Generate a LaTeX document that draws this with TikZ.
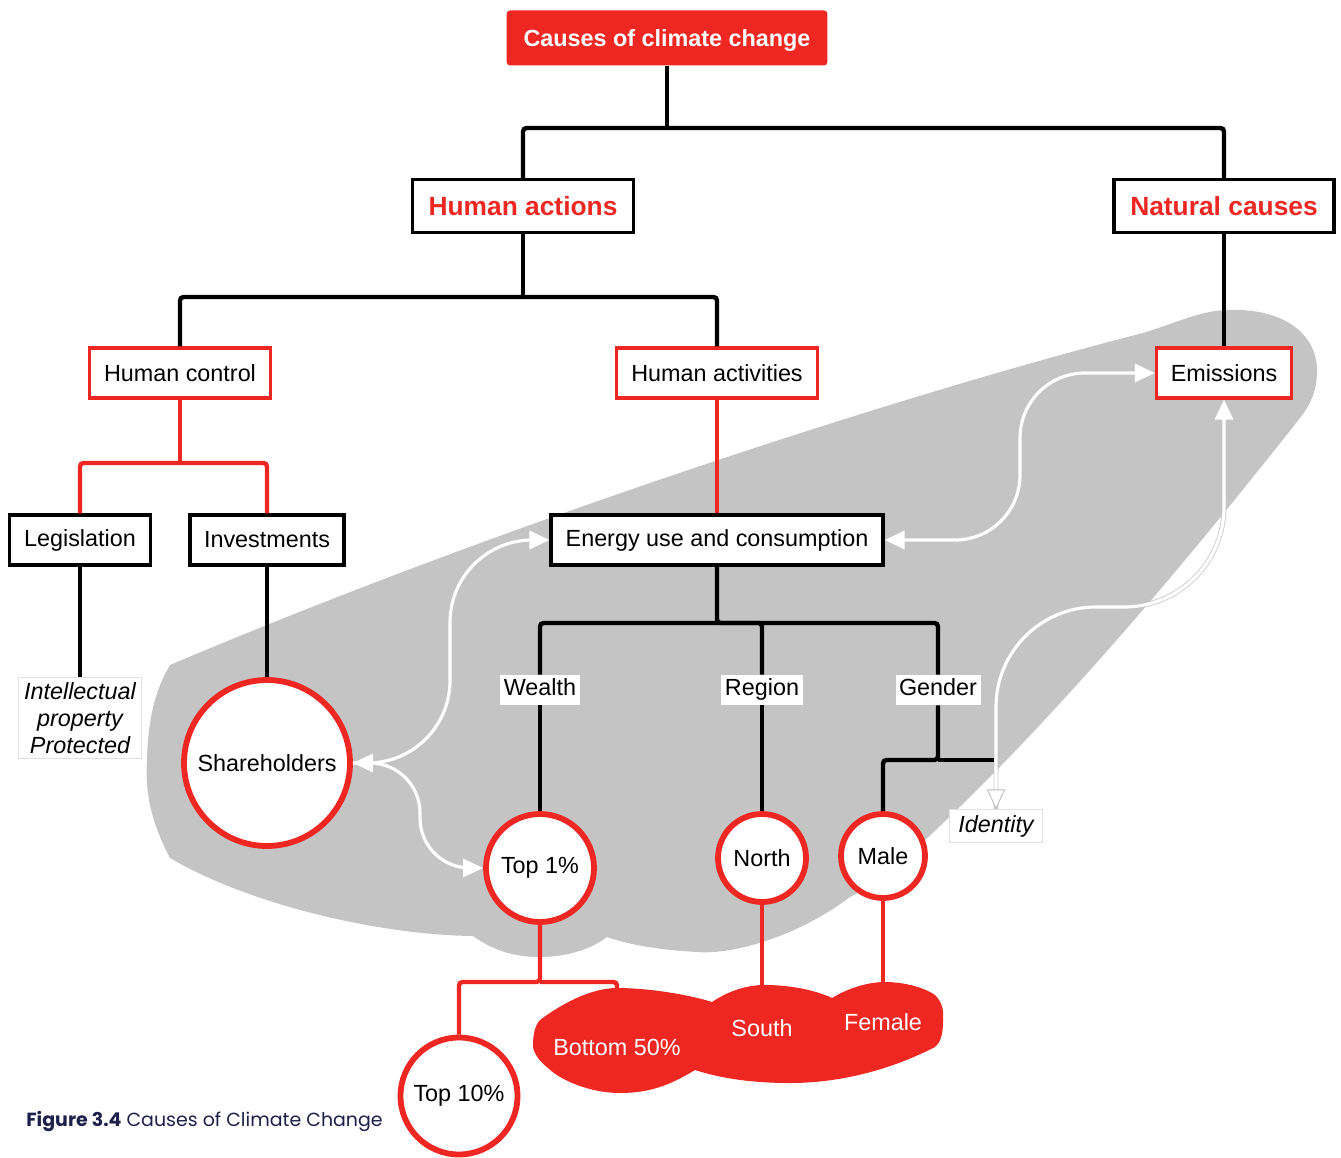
\documentclass[tikz,border=0pt]{standalone}
\usepackage{fontspec}
\setmainfont{Liberation Sans}
\newfontfamily\capfont{Poppins}
\usepackage{tikz}
\usetikzlibrary{arrows.meta, positioning}

\definecolor{climred}{RGB}{238,39,34}
\definecolor{blobgrey}{RGB}{196,196,196}
\definecolor{capnavy}{RGB}{29,32,74}
\newcommand{\diagfont}{\fontsize{13.3}{15.4}\selectfont}
\newcommand{\headfont}{\fontsize{15}{18}\selectfont}
\pgfdeclarelayer{deep}
\pgfdeclarelayer{back}
\pgfsetlayers{deep,back,main}

\begin{document}
\begin{tikzpicture}[
    x=0.02cm, y=-0.02cm,
    titlebox/.style={rectangle, rounded corners=2pt, fill=climred, text=white, font=\diagfont\bfseries, minimum width=6.42cm, minimum height=1.1cm, text depth=0pt},
    headbox/.style={rectangle, draw=black, line width=1.8pt, fill=white, text=climred, font=\headfont\bfseries, minimum height=1.06cm, inner xsep=0.2cm},
    redbox/.style={rectangle, draw=climred, line width=1.8pt, fill=white, font=\diagfont, minimum height=1.0cm, inner xsep=0.2cm},
    blackbox/.style={redbox, draw=black},
    tag/.style={rectangle, fill=white, font=\diagfont, inner xsep=2pt, inner ysep=0pt, minimum height=0.6cm, text height=1.6ex, text depth=0.4ex},
    note/.style={rectangle, draw=black!12, line width=0.5pt, fill=white, font=\diagfont\itshape, align=center, inner sep=3pt},
    ring/.style={circle, draw=climred, line width=3.3pt, fill=white, font=\diagfont, inner sep=0pt},
    blobtext/.style={text=white, font=\diagfont, inner sep=1pt},
    tline/.style={line width=2.5pt, rounded corners=2pt},
    rline/.style={tline, draw=climred},
    wlink/.style={draw=white, line width=1.8pt},
    wtip/.tip={Triangle[length=4mm, width=3.6mm]},
    otip/.tip={Triangle[length=4mm, width=3.6mm, fill=white, color=black!25, line width=0.5pt]},
]
\useasboundingbox (0,0) rectangle (1341,1158);

% grey area
\begin{pgfonlayer}{back}
\fill[blobgrey] (170,665) .. controls (500,525) and (900,395) .. (1143,333)
  .. controls (1185,320) and (1205,308) .. (1240,310)
  .. controls (1290,312) and (1317,338) .. (1317,370)
  .. controls (1317,392) and (1310,405) .. (1300,418)
  .. controls (1200,545) and (1060,715) .. (925,840)
  .. controls (900,862) and (875,885) .. (850,897)
  .. controls (800,935) and (735,955) .. (697,952)
  .. controls (660,950) and (630,945) .. (607,937)
  .. controls (590,950) and (565,957) .. (540,957)
  .. controls (510,957) and (490,948) .. (473,936)
  .. controls (380,935) and (250,905) .. (170,858)
  .. controls (150,820) and (145,790) .. (147,760)
  .. controls (148,720) and (155,690) .. (170,665) -- cycle;
\end{pgfonlayer}

% red area
\fill[climred] (540,1020) .. controls (560,1005) and (590,988) .. (617,988)
  .. controls (650,988) and (690,995) .. (712,1002)
  .. controls (730,990) and (748,985) .. (765,985)
  .. controls (790,985) and (815,990) .. (832,998)
  .. controls (850,987) and (870,982) .. (885,982)
  .. controls (905,982) and (925,988) .. (935,995)
  .. controls (942,1002) and (944,1010) .. (943,1022)
  .. controls (943,1035) and (940,1043) .. (935,1047)
  .. controls (890,1070) and (840,1083) .. (790,1083)
  .. controls (750,1083) and (720,1078) .. (695,1070)
  .. controls (670,1085) and (650,1093) .. (620,1093)
  .. controls (590,1093) and (560,1080) .. (548,1068)
  .. controls (538,1060) and (533,1052) .. (533,1045)
  .. controls (533,1035) and (535,1025) .. (540,1020) -- cycle;

% Top levels
\node[titlebox] (title) at (667,38) {Causes of climate change};
\node[headbox, minimum width=4.42cm] (human) at (523,206) {Human actions};
\node[headbox, minimum width=4.40cm] (natural) at (1224,206) {Natural causes};

% Second level
\node[redbox, minimum width=3.62cm] (control) at (180,373) {Human control};
\node[redbox, minimum width=4.02cm] (activities) at (717,373) {Human activities};
\node[redbox, minimum width=2.70cm] (emissions) at (1224,373) {Emissions};

% Third level
\node[blackbox, minimum width=2.82cm] (legislation) at (80,540) {Legislation};
\node[blackbox, minimum width=3.08cm] (investments) at (267,540) {Investments};
\node[blackbox, minimum width=6.64cm] (energy) at (717,540) {Energy use and consumption};

% Lower level
\node[note] (ipnote) at (80,718) {Intellectual\\property\\Protected};
\node[ring, minimum size=3.32cm] (shareholders) at (267,763) {Shareholders};
\node[tag] (wealth) at (540,690) {Wealth};
\node[tag] (region) at (762,690) {Region};
\node[tag] (gender) at (938,690) {Gender};
\node[note, inner xsep=5pt] (identity) at (996,826) {Identity};
\node[ring, minimum size=2.16cm] (top1) at (540,868) {Top 1\%};
\node[ring, minimum size=1.76cm] (north) at (762,858) {North};
\node[ring, minimum size=1.68cm] (male) at (883,856) {Male};
\node[ring, minimum size=2.34cm] (top10) at (459,1096) {Top 10\%};

% Red area labels
\node[blobtext] (bottom50) at (617,1047) {Bottom 50\%};
\node[blobtext] (south) at (762,1028) {South};
\node[blobtext] (female) at (883,1022) {Female};

% Caption
\node[anchor=base west, inner sep=0pt, text=capnavy, font=\capfont\fontsize{10.8}{12}\selectfont] (caption) at (26,1126) {\textbf{Figure 3.4} Causes of Climate Change};

% Forks
\coordinate (topfork) at (667,128);
\coordinate (humfork) at (523,297);
\coordinate (ctrlfork) at (180,463);
\coordinate (enfork) at (717,623);
\coordinate (gendfork) at (938,760);
\coordinate (idjoin) at (994,760);
\coordinate (wealthfork) at (540,982);

% Black tree
\draw[tline] (title) -- (topfork);
\draw[tline] (human.north) |- (topfork) -| (natural.north);
\draw[tline] (human) -- (humfork);
\draw[tline] (control.north) |- (humfork) -| (activities.north);
\draw[tline] (natural) -- (emissions);
\draw[tline] (legislation) -- (ipnote);
\draw[tline] (investments) -- (shareholders);
\draw[tline] (energy) -- (enfork) -| (region.north);
\draw[tline] (wealth.north) |- (enfork) -| (gender.north);
\draw[tline] (wealth) -- (top1);
\draw[tline] (region) -- (north);
\draw[tline] (gender) -- (gendfork) -| (male);
\draw[tline] (gendfork) -- (idjoin);

% Red tree
\draw[rline] (control) -- (ctrlfork);
\draw[rline] (legislation.north) |- (ctrlfork) -| (investments.north);
\draw[rline] (activities) -- (energy);
\draw[rline] (top1) -- (wealthfork) -| (top10);
\draw[rline] (wealthfork) -| (bottom50);
\draw[rline] (north) -- (south);
\draw[rline] (male) -- (female);

% White links
\draw[wlink, rounded corners=1.3cm, {wtip}-{wtip}] (energy.east) -- (1020,540) -- (1020,373) -- (emissions.west);
\draw[wlink, rounded corners=1.65cm, {wtip}-{wtip}] (shareholders.east) -- (450,763) -- (450,540) -- (energy.west);
\draw[wlink, rounded corners=1cm, -{wtip}] (shareholders.east) -- (420,763) -- (420,868) -- (top1.west);
\begin{pgfonlayer}{deep}
\draw[black!20, line width=2.8pt, rounded corners=2cm] (emissions.south) -- (1224,607) -- (996,607) -- (identity.north);
\end{pgfonlayer}
\draw[wlink, rounded corners=2cm, {wtip}-{otip}] (emissions.south) -- (1224,607) -- (996,607) -- (identity.north);

\end{tikzpicture}
\end{document}
